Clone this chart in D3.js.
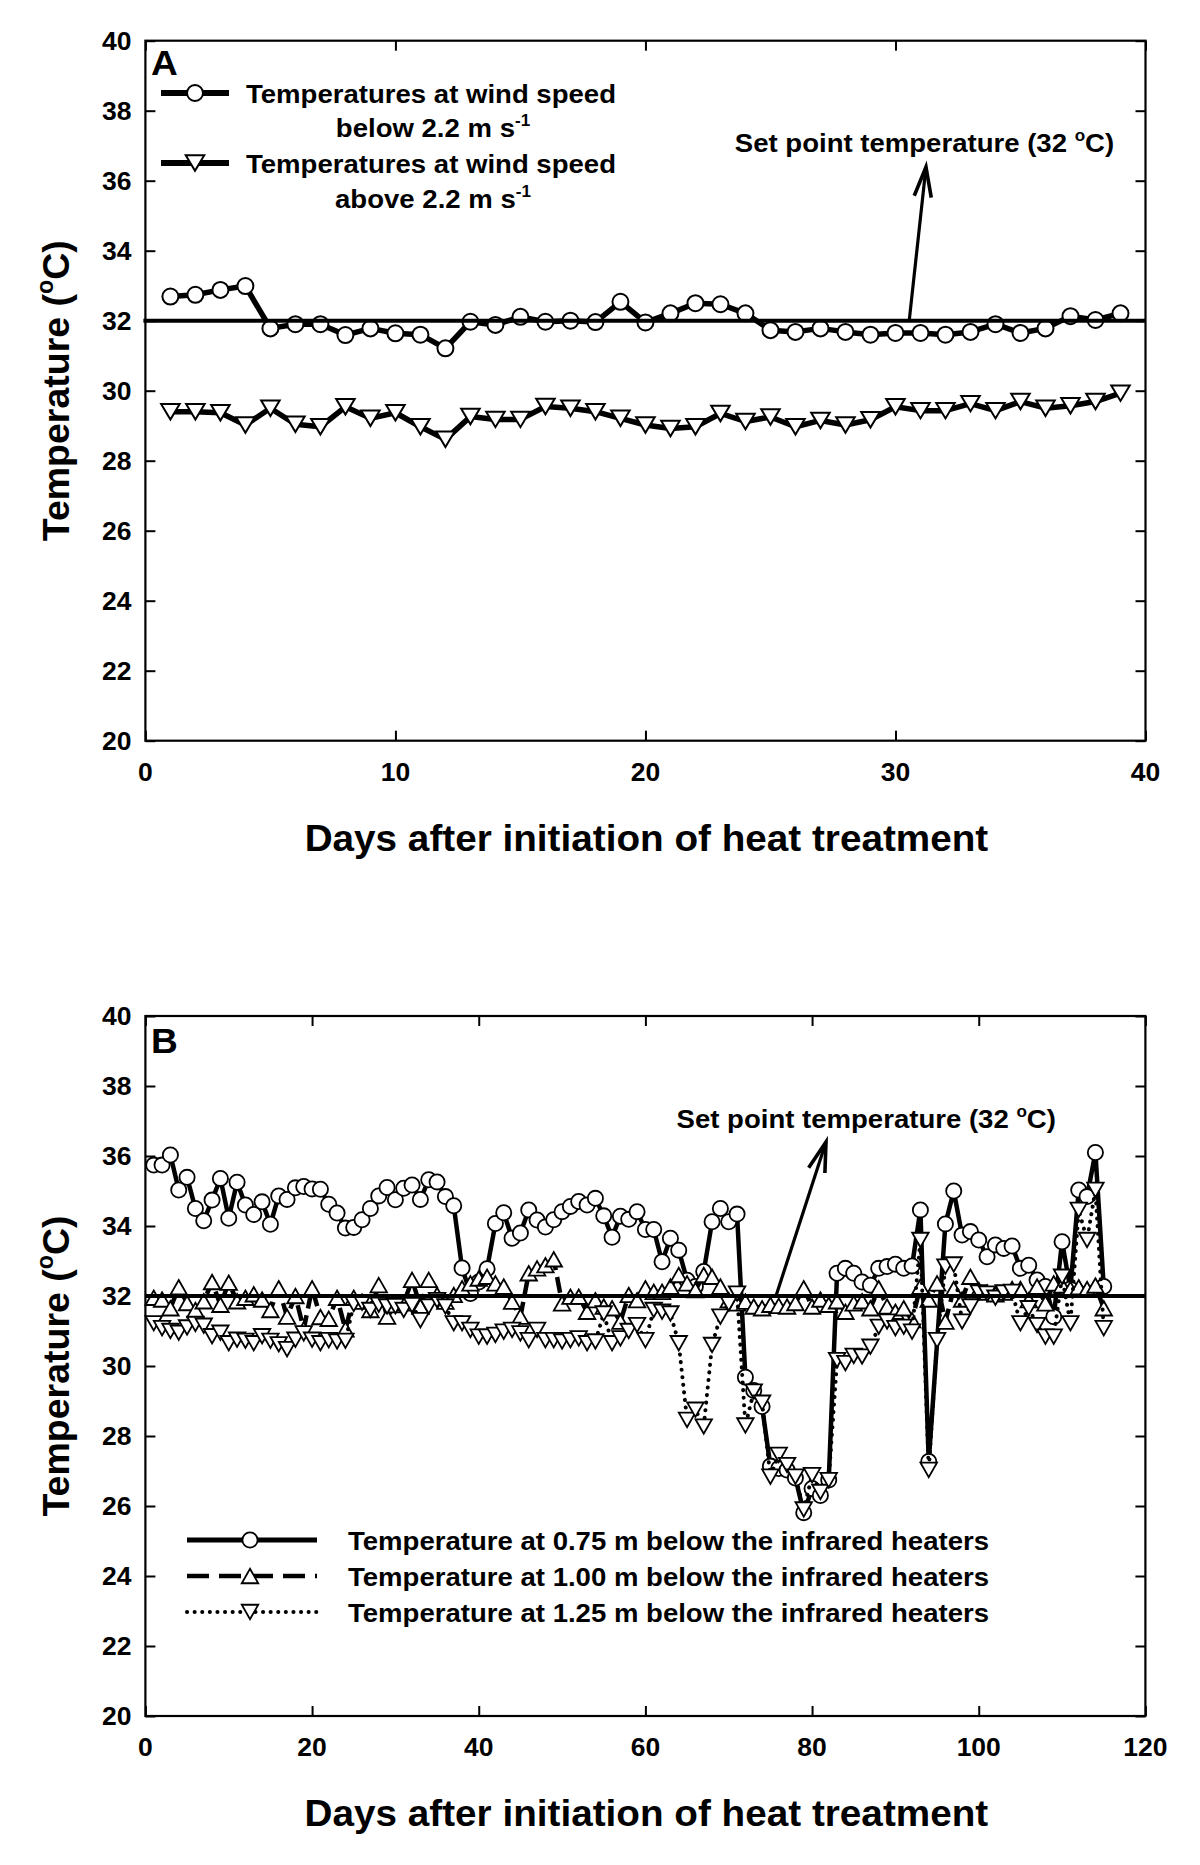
<!DOCTYPE html>
<html><head><meta charset="utf-8">
<script src="https://cdn.jsdelivr.net/npm/d3@7"></script>
<style>
body{margin:0;background:#fff}
text{font-family:"Liberation Sans",Arial,sans-serif;font-weight:bold;fill:#000}
</style>
</head><body>
<svg id="chart" width="1200" height="1865"></svg>
<script>
// ---------------- DATA ----------------
const yTickValues = [20,22,24,26,28,30,32,34,36,38,40];
const xTicksA = [0,10,20,30,40];
const xTicksB = [0,20,40,60,80,100,120];
const setPoint = 32;

// Panel A
const daysA = [1,2,3,4,5,6,7,8,9,10,11,12,13,14,15,16,17,18,19,20,21,22,23,24,25,26,27,28,29,30,31,32,33,34,35,36,37,38,39];
const belowWindA = [32.69,32.74,32.88,32.99,31.78,31.9,31.9,31.59,31.78,31.64,31.6,31.21,31.97,31.88,32.11,31.97,32.0,31.96,32.54,31.95,32.21,32.5,32.47,32.21,31.73,31.68,31.78,31.68,31.6,31.65,31.65,31.6,31.68,31.9,31.65,31.78,32.13,32.02,32.21];
const aboveWindA = [29.4,29.4,29.37,29.02,29.5,29.04,28.97,29.54,29.21,29.37,28.97,28.61,29.26,29.18,29.18,29.55,29.5,29.4,29.21,29.02,28.92,28.97,29.35,29.12,29.25,28.97,29.15,29.02,29.17,29.54,29.43,29.43,29.63,29.43,29.69,29.5,29.57,29.69,29.93];

// Panel B
const daysB = [1,2,3,4,5,6,7,8,9,10,11,12,13,14,15,16,17,18,19,20,21,22,23,24,25,26,27,28,29,30,31,32,33,34,35,36,37,38,39,40,41,42,43,44,45,46,47,48,49,50,51,52,53,54,55,56,57,58,59,60,61,62,63,64,65,66,67,68,69,70,71,72,73,74,75,76,77,78,79,80,81,82,83,84,85,86,87,88,89,90,91,92,93,94,95,96,97,98,99,100,101,102,103,104,105,106,107,108,109,110,111,112,113,114,115];
const t075 = [35.74,35.74,36.03,35.03,35.39,34.5,34.15,34.74,35.36,34.22,35.25,34.6,34.33,34.69,34.05,34.86,34.76,35.09,35.13,35.06,35.05,34.62,34.37,33.94,33.96,34.18,34.5,34.86,35.1,34.75,35.08,35.17,34.76,35.32,35.26,34.84,34.58,32.8,32.07,32.4,32.78,34.07,34.38,33.65,33.8,34.46,34.17,33.97,34.18,34.41,34.56,34.7,34.6,34.79,34.29,33.68,34.28,34.19,34.41,33.9,33.9,32.98,33.65,33.31,32.45,32.27,32.7,34.12,34.5,34.12,34.34,29.68,29.3,28.84,27.14,27.07,27.03,26.8,25.81,26.5,26.3,26.74,32.65,32.79,32.65,32.4,32.31,32.79,32.84,32.91,32.79,32.86,34.46,27.27,null,34.06,35.0,33.74,33.84,33.6,33.12,33.46,33.36,33.43,32.79,32.88,32.46,32.27,31.41,33.55,32.2,35.03,34.84,36.1,32.27];
const t100 = [31.95,31.9,31.65,32.25,31.8,31.6,31.85,32.4,31.75,32.38,31.85,31.95,32.05,31.9,31.6,32.22,31.41,32.0,31.05,32.22,31.4,31.35,31.95,31.05,31.95,31.84,31.6,32.31,31.41,31.74,31.79,32.46,31.7,32.46,32.03,31.84,32.03,32.22,32.36,32.5,32.55,32.36,32.27,31.84,31.41,32.65,32.79,32.88,33.05,31.79,31.98,31.98,31.55,31.88,31.7,31.65,31.27,32.03,31.88,32.22,32.12,32.12,32.27,32.6,32.36,32.17,32.6,32.55,32.27,31.88,31.79,31.84,31.7,31.65,31.75,31.72,31.7,31.8,32.22,31.7,31.9,31.75,31.85,31.55,31.79,31.85,31.65,32.22,31.7,31.55,31.65,31.31,32.27,31.9,32.36,31.27,32.2,31.9,32.55,32.17,32.1,32.05,32.1,32.2,32.2,31.88,32.27,31.79,32.36,32.3,32.2,32.25,32.2,32.3,31.65];
const t125 = [31.22,31.08,31.0,30.95,31.1,31.2,31.15,30.85,30.95,30.65,30.75,30.72,30.65,30.85,30.72,30.62,30.48,30.75,30.93,30.75,30.65,30.74,30.7,30.72,31.77,31.81,31.6,31.75,31.7,31.71,31.6,31.74,31.31,31.7,31.88,31.7,31.22,31.22,31.03,30.84,30.84,30.89,30.98,31.03,30.93,30.74,31.03,30.74,30.74,30.7,30.74,30.79,30.65,30.7,31.5,30.65,30.79,31.0,31.17,30.74,31.6,31.55,31.5,30.65,28.46,28.75,28.27,30.6,31.41,31.79,32.07,28.3,29.27,28.95,26.84,27.46,27.17,26.84,25.9,26.88,26.4,26.74,30.17,30.08,30.29,30.27,30.55,31.12,31.27,31.08,31.12,30.98,33.6,27.03,30.74,32.84,32.9,31.27,31.7,32.1,32.07,31.95,32.1,32.12,31.22,31.65,31.17,30.84,30.84,32.55,31.22,34.46,33.6,35.03,31.08];

const legendA = ["Temperatures at wind speed", "below 2.2 m s", "Temperatures at wind speed", "above 2.2 m s"];
const legendB = ["Temperature at 0.75 m below the infrared heaters", "Temperature at 1.00 m below the infrared heaters", "Temperature at 1.25 m below the infrared heaters"];
const xTitle = "Days after initiation of heat treatment";
const yTitle = "Temperature (";

// ---------------- DRAWING ----------------
const SX = 1.06;
const svg = d3.select('#chart');

function addText(x, y, parts, size, anchor, rotate, sx) {
  const s = sx || SX;
  let tr = `translate(${x},${y})` + (rotate ? ` rotate(${rotate})` : '') + ` scale(${s},1)`;
  const t = svg.append('text').attr('transform', tr).attr('font-size', size).attr('text-anchor', anchor || 'start');
  if (typeof parts === 'string') { t.text(parts); return t; }
  let shifted = false;
  parts.forEach(p => {
    const ts = t.append('tspan').text(p.t);
    if (p.sup) { ts.attr('font-size', size * 0.62).attr('dy', -size * 0.42); shifted = true; }
    else if (shifted) { ts.attr('dy', size * 0.42); shifted = false; }
  });
  return t;
}

function triPath(w, h, down) {
  return down ? `M${-w/2},${-h/2}L${w/2},${-h/2}L0,${h/2}Z` : `M0,${-h/2}L${w/2},${h/2}L${-w/2},${h/2}Z`;
}

function drawFrame(x, y, xTicks) {
  const [l, r] = x.range(), [b, t] = y.range();
  const g = svg.append('g');
  const inner = -10;
  g.append('g').attr('transform', `translate(0,${b})`).call(d3.axisBottom(x).tickValues(xTicks).tickSizeInner(inner).tickSizeOuter(0).tickFormat(''));
  g.append('g').attr('transform', `translate(0,${t})`).call(d3.axisTop(x).tickValues(xTicks).tickSizeInner(inner).tickSizeOuter(0).tickFormat(''));
  g.append('g').attr('transform', `translate(${l},0)`).call(d3.axisLeft(y).tickValues(yTickValues).tickSizeInner(inner).tickSizeOuter(0).tickFormat(''));
  g.append('g').attr('transform', `translate(${r},0)`).call(d3.axisRight(y).tickValues(yTickValues).tickSizeInner(inner).tickSizeOuter(0).tickFormat(''));
  g.selectAll('.domain').remove();
  g.selectAll('.tick line').attr('stroke', '#000').attr('stroke-width', 2);
  svg.append('rect').attr('x', l).attr('y', t).attr('width', r - l).attr('height', b - t)
    .attr('fill', 'none').attr('stroke', '#000').attr('stroke-width', 2.2);
  yTickValues.forEach(v => addText(l - 14, y(v) + 9, String(v), 25, 'end'));
  xTicks.forEach(v => addText(x(v), b + 40, String(v), 25, 'middle'));
  addText((l + r) / 2 + 1, b + 110, xTitle, 36.5, 'middle');
  addText(69, (t + b) / 2, [{t: yTitle}, {t: 'o', sup: true}, {t: 'C)'}], 37.5, 'middle', -90, 1.0);
}

function drawArrow(x, y, from, to) {
  const x1 = x(from[0]), y1 = y(from[1]), x2 = x(to[0]), y2 = y(to[1]);
  svg.append('line').attr('x1', x1).attr('y1', y1).attr('x2', x2).attr('y2', y2).attr('stroke', '#000').attr('stroke-width', 3.2);
  const ang = Math.atan2(y1 - y2, x1 - x2), L = 31, da = 16 * Math.PI / 180;
  const pts = [[x2 + L * Math.cos(ang - da), y2 + L * Math.sin(ang - da)], [x2, y2], [x2 + L * Math.cos(ang + da), y2 + L * Math.sin(ang + da)]];
  svg.append('path').attr('d', d3.line()(pts)).attr('fill', 'none').attr('stroke', '#000').attr('stroke-width', 3.6).attr('stroke-linejoin', 'miter');
}

function drawSeries(x, y, days, vals, opt) {
  const pts = days.map((d, i) => [d, vals[i]]).filter(p => p[1] != null);
  const line = d3.line().x(p => x(p[0])).y(p => y(p[1]));
  const path = svg.append('path').attr('d', line(pts)).attr('fill', 'none').attr('stroke', '#000')
    .attr('stroke-width', opt.lw).attr('stroke-linejoin', 'round');
  if (opt.dash) path.attr('stroke-dasharray', opt.dash);
  if (opt.cap) path.attr('stroke-linecap', opt.cap);
  const g = svg.append('g');
  pts.forEach(p => drawMarker(g, x(p[0]), y(p[1]), opt));
}

function drawMarker(g, cx, cy, opt) {
  if (opt.shape === 'circle') {
    g.append('circle').attr('cx', cx).attr('cy', cy).attr('r', opt.r).attr('fill', '#fff').attr('stroke', '#000').attr('stroke-width', opt.sw);
  } else {
    g.append('path').attr('transform', `translate(${cx},${cy})`).attr('d', triPath(opt.w, opt.h, opt.shape === 'down'))
      .attr('fill', '#fff').attr('stroke', '#000').attr('stroke-width', opt.sw).attr('stroke-linejoin', 'miter');
  }
}

// ----- Panel A -----
const xA = d3.scaleLinear().domain([0, 40]).range([145.4, 1145.5]);
const yA = d3.scaleLinear().domain([20, 40]).range([740.7, 40.7]);
drawFrame(xA, yA, xTicksA);
const optA1 = {shape: 'circle', r: 8, sw: 2, lw: 5.5};
const optA2 = {shape: 'down', w: 18.5, h: 15.5, sw: 2, lw: 5.5};
drawSeries(xA, yA, daysA, belowWindA, optA1);
drawSeries(xA, yA, daysA, aboveWindA, optA2);
svg.append('line').attr('x1', xA(0) - 2).attr('x2', xA(40)).attr('y1', yA(setPoint)).attr('y2', yA(setPoint)).attr('stroke', '#000').attr('stroke-width', 4);
drawArrow(xA, yA, [30.55, setPoint], [31.22, 36.39]);
addText(xA(31.16), yA(36.82), [{t: 'Set point temperature (32 '}, {t: 'o', sup: true}, {t: 'C)'}], 26, 'middle');
addText(151, 75, 'A', 35, 'start');
// legend A
const lgA = svg.append('g');
[[93, optA1], [163, optA2]].forEach(([yy, o]) => {
  lgA.append('line').attr('x1', 161).attr('x2', 229).attr('y1', yy).attr('y2', yy).attr('stroke', '#000').attr('stroke-width', 6);
  drawMarker(lgA, 195, yy, o);
});
addText(431, 103, legendA[0], 26, 'middle');
addText(433, 137, [{t: legendA[1]}, {t: '-1', sup: true}], 26, 'middle');
addText(431, 173, legendA[2], 26, 'middle');
addText(433, 208, [{t: legendA[3]}, {t: '-1', sup: true}], 26, 'middle');

// ----- Panel B -----
const xB = d3.scaleLinear().domain([0, 120]).range([145.4, 1145.4]);
const yB = d3.scaleLinear().domain([20, 40]).range([1716, 1016]);
drawFrame(xB, yB, xTicksB);
const optB1 = {shape: 'circle', r: 7.6, sw: 1.8, lw: 4.5};
const optB2 = {shape: 'up', w: 16.5, h: 14.5, sw: 1.8, lw: 4.5, dash: '16,7'};
const optB3 = {shape: 'down', w: 16.5, h: 14.5, sw: 1.8, lw: 4, dash: '0.1,7.5', cap: 'round'};
drawSeries(xB, yB, daysB, t075, optB1);
drawSeries(xB, yB, daysB, t100, optB2);
drawSeries(xB, yB, daysB, t125, optB3);
svg.append('line').attr('x1', xB(0)).attr('x2', xB(120)).attr('y1', yB(setPoint)).attr('y2', yB(setPoint)).attr('stroke', '#000').attr('stroke-width', 4);
drawArrow(xB, yB, [75.67, setPoint], [81.67, 36.4]);
addText(xB(86.5), yB(36.8), [{t: 'Set point temperature (32 '}, {t: 'o', sup: true}, {t: 'C)'}], 26, 'middle');
addText(151, 1053, 'B', 35, 'start');
// legend B
const lgB = svg.append('g');
[[1540, optB1], [1576, optB2], [1612, optB3]].forEach(([yy, o], i) => {
  const ln = lgB.append('line').attr('x1', 187).attr('x2', 317).attr('y1', yy).attr('y2', yy).attr('stroke', '#000').attr('stroke-width', i === 0 ? 5 : o.lw);
  if (o.dash) ln.attr('stroke-dasharray', i === 1 ? '22,10' : o.dash);
  if (o.cap) ln.attr('stroke-linecap', o.cap);
  drawMarker(lgB, 250, yy, o);
  addText(348, yy + 10, legendB[i], 26, 'start');
});
</script>
</body></html>
